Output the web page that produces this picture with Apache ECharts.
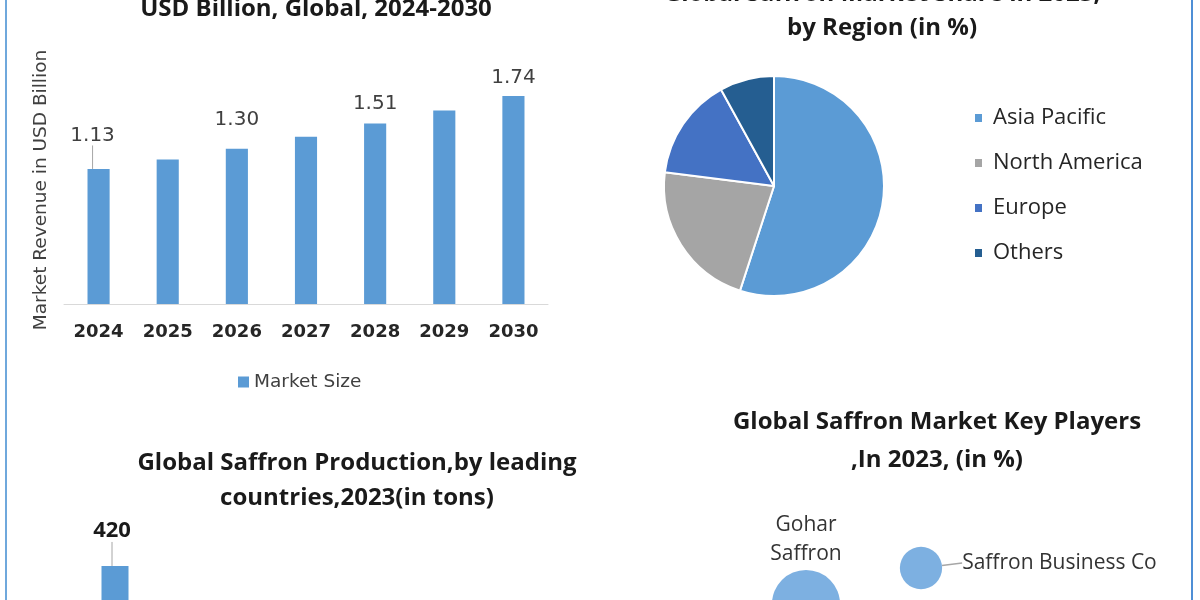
<!DOCTYPE html>
<html>
<head>
<meta charset="utf-8">
<script src="https://cdn.jsdelivr.net/npm/echarts@6.0.0/dist/echarts.min.js"></script>
<style>
html,body{margin:0;padding:0;background:#ffffff;}
#c{width:1200px;height:600px;}
</style>
</head>
<body>
<div id="c"></div>
<script>
// ---- data ----
const years = ['2024', '2025', '2026', '2027', '2028', '2029', '2030'];
const marketSize = [1.13, 1.21, 1.30, 1.40, 1.51, 1.62, 1.74];
const labeledYears = ['2024', '2026', '2028', '2030'];

const regions = ['Asia Pacific', 'North America', 'Europe', 'Others'];
const regionShare = [55, 22, 15, 8];

const countries = ['Iran'];
const production = [420];

const players = ['Gohar Saffron', 'Saffron Business Co'];
const playerX = [26.5, 55.25];
const playerY = [48, 66];
const playerShare = [13, 5];

// ---- styles ----
const BLUE = '#5B9BD5';
const regionColors = ['#5B9BD5', '#A5A5A5', '#4472C4', '#255E91'];
const labelDistance = { '2024': 5, '2026': 18.5, '2028': 9.6, '2030': 8.3 };

const chart = echarts.init(document.getElementById('c'));

const barData = marketSize.map((v, i) => {
  const y = years[i];
  const show = labeledYears.indexOf(y) >= 0;
  return {
    value: v,
    label: { show: show, distance: labelDistance[y] || 5 },
    labelLine: { show: i === 0 }
  };
});

const bubbleData = players.map((n, i) => {
  const item = { name: n, value: [playerX[i], playerY[i], playerShare[i]] };
  if (i === 0) {
    item.label = {
      position: 'top', distance: 1, offset: [47, 0],
      formatter: n.replace(' ', '\n'), lineHeight: 29, align: 'center'
    };
  } else {
    item.label = { position: 'right', distance: 5, formatter: n };
    item.labelLine = { show: true };
  }
  return item;
});

const titleStyle = { fontFamily: 'Open Sans', fontWeight: 'bold', fontSize: 24, fill: '#1a1a1a', align: 'center', verticalAlign: 'middle' };

const option = {
  backgroundColor: '#ffffff',
  animation: false,
  grid: [
    { left: 64, width: 484, top: 65, height: 239, outerBoundsMode: 'none' },
    { left: 88, width: 54, top: 529, height: 231, outerBoundsMode: 'none' },
    { left: 700, width: 400, top: 500, height: 200, outerBoundsMode: 'none' }
  ],
  xAxis: [
    {
      gridIndex: 0, type: 'category', data: years,
      axisLine: { lineStyle: { color: '#D9D9D9', width: 1 } },
      axisTick: { show: false },
      axisLabel: { margin: 19, fontFamily: 'DejaVu Sans', fontWeight: 'bold', fontSize: 18, color: '#262626' }
    },
    { gridIndex: 1, type: 'category', data: countries, show: false },
    { gridIndex: 2, type: 'value', min: 0, max: 100, show: false }
  ],
  yAxis: [
    { gridIndex: 0, type: 'value', min: 0, max: 2, show: false },
    { gridIndex: 1, type: 'value', min: 0, max: 500, show: false },
    { gridIndex: 2, type: 'value', min: 0, max: 100, show: false }
  ],
  legend: [
    {
      data: ['Market Size'], left: 238, top: 372.5, padding: 0,
      itemWidth: 11, itemHeight: 11, icon: 'rect',
      textStyle: { fontFamily: 'DejaVu Sans', fontSize: 18.5, color: '#404040' }
    },
    {
      data: regions, orient: 'vertical', left: 973, top: 107, padding: 0,
      itemWidth: 9, itemHeight: 10, itemGap: 23, icon: 'rect',
      textStyle: { fontFamily: 'Open Sans', fontSize: 22, color: '#262626', padding: [0, 0, 0, 5] }
    }
  ],
  series: [
    {
      name: 'Market Size', type: 'bar', xAxisIndex: 0, yAxisIndex: 0,
      data: barData, barWidth: '32%',
      itemStyle: { color: BLUE },
      label: { show: false, position: 'top', fontFamily: 'DejaVu Sans', fontSize: 20, color: '#404040', formatter: p => p.value.toFixed(2) },
      labelLine: { show: false, lineStyle: { color: '#A6A6A6', width: 1 } },
      labelLayout: p => (p.dataIndex === 0 ? { dx: -6, dy: -18.5 } : null)
    },
    {
      name: 'Production', type: 'bar', xAxisIndex: 1, yAxisIndex: 1,
      data: production, barWidth: 27,
      itemStyle: { color: BLUE },
      label: { show: true, position: 'top', fontFamily: 'Open Sans', fontWeight: 'bold', fontSize: 22, color: '#1a1a1a' },
      labelLine: { show: true, lineStyle: { color: '#A6A6A6', width: 1 } },
      labelLayout: { dx: -3, dy: -19 }
    },
    {
      name: 'Regional Share', type: 'pie', center: [774, 186], radius: 110,
      startAngle: 90, clockwise: true,
      data: regions.map((r, i) => ({ name: r, value: regionShare[i], itemStyle: { color: regionColors[i] } })),
      itemStyle: { borderColor: '#ffffff', borderWidth: 2 },
      label: { show: false }, labelLine: { show: false }
    },
    {
      name: 'Key Players', type: 'scatter', xAxisIndex: 2, yAxisIndex: 2,
      data: bubbleData,
      symbolSize: v => Math.sqrt(v[2]) * 18.9,
      itemStyle: { color: '#7DB0E1', opacity: 1 },
      label: { show: true, fontFamily: 'Open Sans', fontSize: 21, color: '#333333' },
      labelLine: { lineStyle: { color: '#A6A6A6', width: 1.5 } },
      labelLayout: p => (p.dataIndex === 1 ? { dx: 15, dy: -5 } : null)
    }
  ],
  graphic: [
    { type: 'line', shape: { x1: 6, y1: 0, x2: 6, y2: 600 }, style: { stroke: '#6FA8DC', lineWidth: 2 } },
    { type: 'line', shape: { x1: 1192, y1: 0, x2: 1192, y2: 600 }, style: { stroke: '#4F8FD6', lineWidth: 2 } },
    { type: 'text', x: 316, y: 9, style: Object.assign({ text: 'USD Billion, Global, 2024-2030' }, titleStyle) },
    { type: 'text', x: 882, y: 11, style: Object.assign({ text: 'Global Saffron Market Share in 2023,\nby Region (in %)', lineHeight: 34 }, titleStyle) },
    { type: 'text', x: 357, y: 480.5, style: Object.assign({ text: 'Global Saffron Production,by leading\ncountries,2023(in tons)', lineHeight: 35 }, titleStyle) },
    { type: 'text', x: 937, y: 441.6, style: Object.assign({ text: 'Global Saffron Market Key Players\n,In 2023, (in %)', lineHeight: 38 }, titleStyle) },
    { type: 'text', x: 41, y: 190, rotation: Math.PI / 2,
      style: { text: 'Market Revenue in USD Billion', fontFamily: 'DejaVu Sans', fontSize: 18.5, fill: '#404040', align: 'center', verticalAlign: 'middle' } }
  ]
};

chart.setOption(option);
</script>
</body>
</html>
